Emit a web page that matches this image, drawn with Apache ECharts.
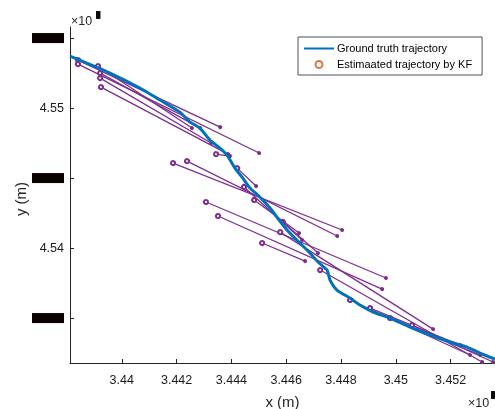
<!DOCTYPE html>
<html>
<head>
<meta charset="utf-8">
<script src="https://cdn.jsdelivr.net/npm/echarts@6/dist/echarts.min.js"></script>
<style>html,body{margin:0;padding:0;background:#fff}#c{width:495px;height:409px}</style>
</head>
<body>
<div id="c"></div>
<script>
// axis values are in units of 1e6 m
const xTicks = [3.440, 3.442, 3.444, 3.446, 3.448, 3.450, 3.452];
const xTickLabels = ['3.44', '3.442', '3.444', '3.446', '3.448', '3.45', '3.452'];
const yTicks = [4.535, 4.540, 4.545, 4.550, 4.555];
const yTickLabels = ['4.535', '4.54', '4.545', '4.55', '4.555'];
const yLabelHidden = [true, false, true, false, true];

const truthX = [3.43811, 3.43957, 3.44066, 3.44139, 3.44212, 3.44249, 3.44285, 3.44322, 3.44358, 3.44384,
  3.44413, 3.44439, 3.44468, 3.44504, 3.44541, 3.44566, 3.44603, 3.44639, 3.44687, 3.44716,
  3.44749, 3.44760, 3.44785, 3.44833, 3.44869, 3.44917, 3.44979, 3.45052, 3.45125, 3.45198,
  3.45260, 3.45307, 3.45362];
const truthY = [4.55371, 4.55250, 4.55143, 4.55057, 4.54971, 4.54900, 4.54857, 4.54771, 4.54714, 4.54664,
  4.54571, 4.54507, 4.54429, 4.54364, 4.54286, 4.54221, 4.54129, 4.54057, 4.53964, 4.53900,
  4.53843, 4.53771, 4.53700, 4.53643, 4.53593, 4.53543, 4.53500, 4.53436, 4.53379, 4.53329,
  4.53293, 4.53250, 4.53207];

// KF prediction segments: start (open marker) -> end (filled marker)
const segX0 = [3.43840, 3.43840, 3.43913, 3.43921, 3.43921, 3.43924, 3.44344, 3.44187, 3.44238, 3.44307,
  3.44351, 3.44512, 3.44588, 3.44446, 3.44578, 3.44724, 3.44833, 3.44906, 3.44979, 3.45059,
  3.44421, 3.44483];
const segY0 = [4.55343, 4.55314, 4.55300, 4.55250, 4.55214, 4.55150, 4.54671, 4.54607, 4.54621, 4.54329,
  4.54229, 4.54036, 4.54186, 4.54436, 4.54114, 4.53843, 4.53629, 4.53571, 4.53500, 4.53450,
  4.54571, 4.54343];
const segX1 = [3.44359, 3.44501, 3.44256, 3.44286, 3.44326, 3.44388, 3.44395, 3.44804, 3.44786, 3.44964,
  3.44950, 3.44669, 3.44716, 3.44658, 3.45136, 3.45315, 3.45271, 3.45235, 3.45308, 3.45355,
  3.44490, 3.44647];
const segY1 = [4.54864, 4.54679, 4.54857, 4.54857, 4.54750, 4.54671, 4.54657, 4.54129, 4.54086, 4.53786,
  4.53707, 4.53907, 4.53964, 4.54057, 4.53421, 4.53186, 4.53236, 4.53307, 4.53236, 4.53186,
  4.54443, 4.54107];

const kfX = [];
const kfY = [];

const ink = '#262626';
const chart = echarts.init(document.getElementById('c'), null, {renderer: 'canvas'});

const segData = segX0.map((x, i) => ({coords: [[x, segY0[i]], [segX1[i], segY1[i]]]}));

chart.setOption({
  animation: false,
  backgroundColor: '#fff',
  textStyle: {fontFamily: 'Liberation Sans, Arial, sans-serif'},
  grid: {left: 70, top: 27, width: 425, height: 336, containLabel: false, outerBoundsMode: 'none'},
  xAxis: {
    type: 'value', min: 3.43811, max: 3.45362,
    name: 'x (m)', nameLocation: 'middle', nameGap: 32, nameMoveOverlap: false,
    nameTextStyle: {color: ink, fontSize: 15, fontFamily: 'Liberation Sans'},
    axisLine: {show: true, onZero: false, lineStyle: {color: ink, width: 1}},
    axisTick: {show: true, inside: true, length: 4, customValues: xTicks, lineStyle: {color: ink}},
    axisLabel: {
      customValues: xTicks, margin: 11, color: '#1a1a1a', fontSize: 12.5, fontFamily: 'Liberation Sans',
      formatter: v => { let k = 0; xTicks.forEach((t, i) => { if (Math.abs(t - v) < Math.abs(xTicks[k] - v)) k = i; }); return xTickLabels[k]; }
    },
    splitLine: {show: false}
  },
  yAxis: {
    type: 'value', min: 4.53179, max: 4.55579,
    axisLine: {show: true, onZero: false, lineStyle: {color: ink, width: 1}},
    axisTick: {show: true, inside: true, length: 4, customValues: yTicks, lineStyle: {color: ink}},
    axisLabel: {
      customValues: yTicks, margin: 6, color: '#1a1a1a', fontSize: 12.5, fontFamily: 'Liberation Sans',
      formatter: v => {
        let k = 0; yTicks.forEach((t, i) => { if (Math.abs(t - v) < Math.abs(yTicks[k] - v)) k = i; });
        return yLabelHidden[k] ? '{box|' + yTickLabels[k] + '}' : yTickLabels[k];
      },
      rich: {box: {backgroundColor: '#0c0000', color: '#0c0000', width: 32, height: 10, fontSize: 9, align: 'right', padding: 0}}
    },
    splitLine: {show: false}
  },
  legend: {
    orient: 'vertical', left: 298, top: 37,
    backgroundColor: '#fff', borderColor: ink, borderWidth: 0.8,
    padding: [6, 10, 5, 5], itemGap: 5, itemWidth: 30, itemHeight: 7,
    textStyle: {color: '#000', fontSize: 11, fontFamily: 'Liberation Sans', padding: [0, 0, 0, -2]},
    data: [
      {name: 'Ground truth trajectory', itemStyle: {opacity: 0}},
      {name: 'Estimaated trajectory by KF', icon: 'emptyCircle'}
    ]
  },
  series: [
    {
      type: 'lines', coordinateSystem: 'cartesian2d', data: segData, z: 2,
      symbol: ['emptyCircle', 'circle'], symbolSize: 4,
      lineStyle: {color: '#7E2F8E', width: 1.3, opacity: 1},
      itemStyle: {color: '#7E2F8E'}
    },
    {
      name: 'Ground truth trajectory', type: 'line', z: 3,
      data: truthX.map((x, i) => [x, truthY[i]]),
      showSymbol: false, symbol: 'none', smooth: 0.2,
      lineStyle: {color: '#0072BD', width: 3},
      itemStyle: {color: '#0072BD'}
    },
    {
      name: 'Estimaated trajectory by KF', type: 'scatter', z: 4,
      data: kfX.map((x, i) => [x, kfY[i]]),
      symbol: 'emptyCircle', symbolSize: 6,
      itemStyle: {color: '#D95319', borderColor: '#D95319', borderWidth: 1}
    }
  ],
  graphic: [
    {type: 'text', x: 22, y: 199, rotation: Math.PI / 2,
     style: {text: 'y (m)', fill: ink, fontSize: 15, fontFamily: 'Liberation Sans', align: 'center', verticalAlign: 'middle'}},
    {type: 'text', left: 71, top: 15, style: {text: '×10', fill: ink, fontSize: 12.5, fontFamily: 'Liberation Sans'}},
    {type: 'text', left: 96, top: 11, style: {text: '6', fill: '#000', fontSize: 8, fontFamily: 'Liberation Sans', backgroundColor: '#111', padding: [0, 0]}},
    {type: 'text', left: 468, top: 397, style: {text: '×10', fill: ink, fontSize: 12.5, fontFamily: 'Liberation Sans'}},
    {type: 'text', left: 491, top: 391, style: {text: '6', fill: '#000', fontSize: 8, fontFamily: 'Liberation Sans', backgroundColor: '#111'}}
  ]
});
</script>
</body>
</html>
